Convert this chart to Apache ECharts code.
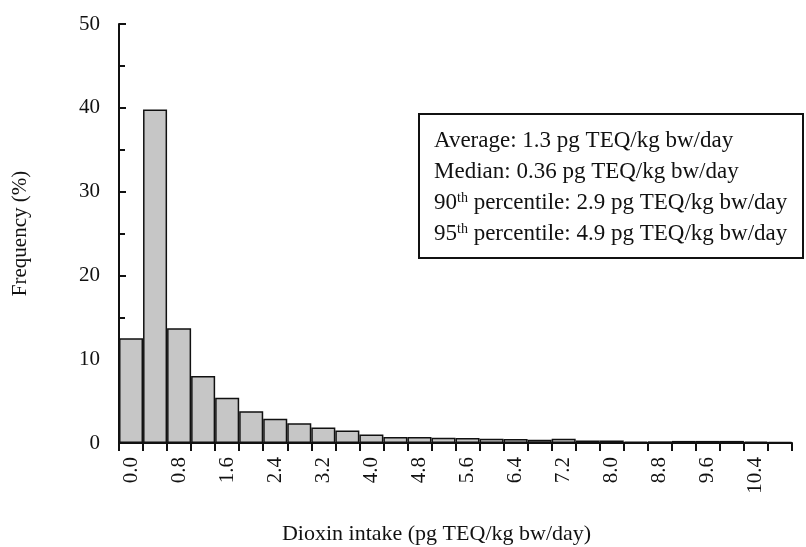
<!DOCTYPE html>
<html>
<head>
<meta charset="utf-8">
<script src="https://cdn.jsdelivr.net/npm/echarts@6/dist/echarts.min.js"></script>
<style>
  html, body { margin: 0; padding: 0; background: #fff; }
  #chart { width: 806px; height: 547px; }
</style>
</head>
<body>
<div id="chart"></div>
<script>
// bins of 0.4 pg TEQ/kg bw/day
const binLabels = ['0.0', '0.4', '0.8', '1.2', '1.6', '2.0', '2.4', '2.8', '3.2', '3.6',
  '4.0', '4.4', '4.8', '5.2', '5.6', '6.0', '6.4', '6.8', '7.2', '7.6',
  '8.0', '8.4', '8.8', '9.2', '9.6', '10.0', '10.4', '10.8']
const frequency = [12.5, 39.8, 13.7, 8.0, 5.4, 3.8, 2.9, 2.35, 1.85, 1.5,
  1.0, 0.72, 0.72, 0.63, 0.6, 0.52, 0.48, 0.38, 0.5, 0.3,
  0.3, 0.15, 0.2, 0.25, 0.25, 0.25, 0.15, 0.1]
const statLines = [
  'Average: 1.3 pg TEQ/kg bw/day',
  'Median: 0.36 pg TEQ/kg bw/day',
  '90{sup|th} percentile: 2.9 pg TEQ/kg bw/day',
  '95{sup|th} percentile: 4.9 pg TEQ/kg bw/day'
]

const font = '"Liberation Serif", "Times New Roman", serif'
const chart = echarts.init(document.getElementById('chart'))

const legendTexts = statLines.map((line, i) => ({
  type: 'text',
  left: 434,
  top: 129 + i * 31,
  z: 11,
  style: {
    text: line,
    font: '23px ' + font,
    fill: '#111',
    rich: {
      sup: { fontSize: 14, fontFamily: font, verticalAlign: 'top', lineHeight: 14, fill: '#111' }
    }
  }
}))

chart.setOption({
  backgroundColor: '#fff',
  animation: false,
  grid: { left: 119, right: 14, top: 24, bottom: 104, outerBoundsMode: 'none' },
  xAxis: {
    type: 'category',
    data: binLabels,
    boundaryGap: true,
    name: 'Dioxin intake (pg TEQ/kg bw/day)',
    nameLocation: 'middle',
    nameGap: 80,
    nameTextStyle: { fontFamily: font, fontSize: 22, color: '#111', padding: [0, 38, 0, 0] },
    axisLine: { lineStyle: { color: '#111', width: 2 } },
    axisTick: { show: true, interval: 0, length: 8, lineStyle: { color: '#111', width: 2 } },
    axisLabel: { interval: 1, rotate: 90, margin: 14, fontFamily: font, fontSize: 21, color: '#111' }
  },
  yAxis: {
    type: 'value',
    min: 0,
    max: 50,
    interval: 10,
    name: 'Frequency (%)',
    nameLocation: 'middle',
    nameGap: 88,
    nameTextStyle: { fontFamily: font, fontSize: 21, color: '#111' },
    axisLine: { show: true, lineStyle: { color: '#111', width: 2 } },
    axisTick: { show: true, inside: true, length: 7, lineStyle: { color: '#111', width: 2 } },
    minorTick: { show: true, splitNumber: 2, length: 6, lineStyle: { color: '#111', width: 2 } },
    splitLine: { show: false },
    axisLabel: { margin: 19, fontFamily: font, fontSize: 21, color: '#111' }
  },
  series: [{
    type: 'bar',
    data: frequency,
    barCategoryGap: 0,
    itemStyle: { color: '#c6c6c6', borderColor: '#111', borderWidth: 1.5 }
  }],
  graphic: [{
    type: 'rect',
    shape: { x: 419, y: 114, width: 384, height: 144 },
    style: { fill: '#fff', stroke: '#111', lineWidth: 2 },
    z: 10
  }].concat(legendTexts)
})
</script>
</body>
</html>
